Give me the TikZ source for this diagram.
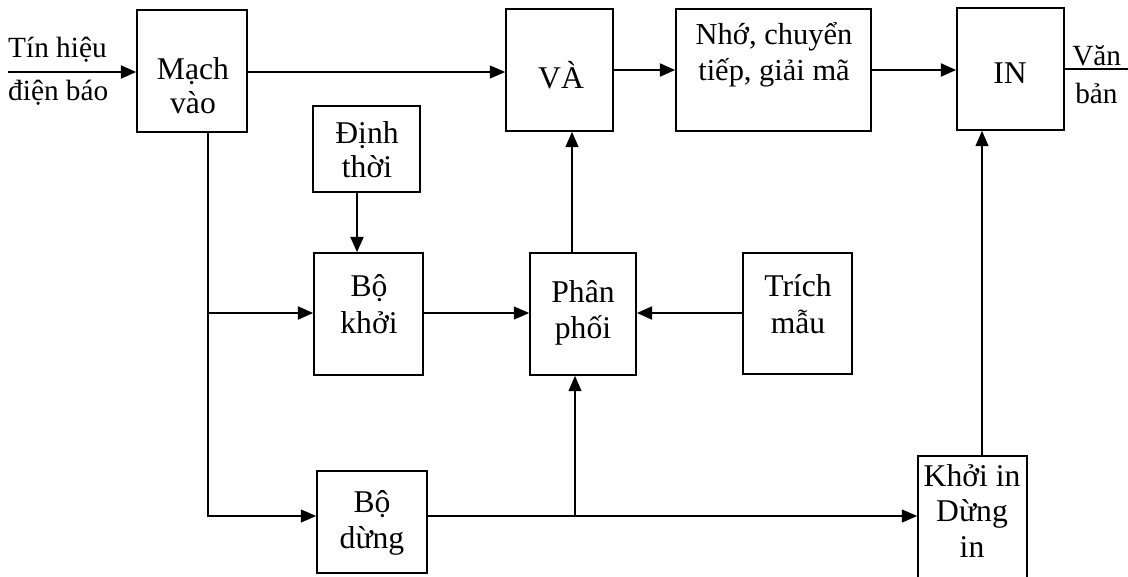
\documentclass[tikz,border=0pt]{standalone}
\usepackage{fontspec}
\setmainfont{Liberation Serif}
\usetikzlibrary{arrows.meta}
\begin{document}
\begin{tikzpicture}[x=0.03cm,y=-0.03cm,
  box/.style={draw,line width=1.4pt,inner sep=0pt},
  txt/.style={inner sep=0pt,align=center,font=\fontsize{27}{31}\selectfont},
  lbl/.style={inner sep=0pt,font=\fontsize{25}{31}\selectfont},
  thinl/.style={line width=1pt},
  thickl/.style={line width=1.9pt},
  arr/.style={-{Triangle[length=13pt,width=11pt]}}]
\useasboundingbox (0,0) rectangle (1128,576);
% boxes
\node[box,minimum width=3.30cm,minimum height=3.66cm] (mv) at (192,71) {};
\node[box,minimum width=3.21cm,minimum height=3.66cm] (va) at (559.5,70) {};
\node[box,minimum width=5.85cm,minimum height=3.66cm] (nho) at (773.5,70) {};
\node[box,minimum width=3.21cm,minimum height=3.66cm] (in) at (1010.5,69) {};
\node[box,minimum width=3.21cm,minimum height=2.58cm] (dt) at (366.5,149) {};
\node[box,minimum width=3.27cm,minimum height=3.66cm] (bk) at (368.5,314) {};
\node[box,minimum width=3.18cm,minimum height=3.66cm] (pp) at (583,314) {};
\node[box,minimum width=3.27cm,minimum height=3.63cm] (tm) at (797.5,313.5) {};
\node[box,minimum width=3.30cm,minimum height=3.06cm] (bd) at (372,522) {};
\node[box,minimum width=3.27cm,minimum height=4.32cm] (ki) at (972.5,528) {};
% texts
\node[txt,font=\fontsize{27}{29}\selectfont] (mvt) at (193,86) {Mạch\\vào};
\node[txt] (vat) at (561,75) {VÀ};
\node[txt,font=\fontsize{26}{31}\selectfont] (nhot) at (774,55) {Nhớ, chuyển\\tiếp, giải mã};
\node[txt] (int) at (1010,73) {IN};
\node[txt,font=\fontsize{27}{29}\selectfont] (dtt) at (367,150) {Định\\thời};
\node[txt] (bkt) at (369,304) {Bộ\\khởi};
\node[txt] (ppt) at (583,313) {Phân\\phối};
\node[txt] (tmt) at (798,304) {Trích\\mẫu};
\node[txt] (bdt) at (372,523) {Bộ\\dừng};
\node[txt,font=\fontsize{27}{30}\selectfont] (kit) at (972,511) {Khởi in\\Dừng\\in};
\node[lbl,anchor=base west] (l1) at (8,57) {Tín hiệu};
\node[lbl,anchor=base west] (l2) at (8,100) {điện báo};
\node[lbl,anchor=base west] (l3) at (1072,65) {Văn};
\node[lbl,anchor=base west] (l4) at (1075,103) {bản};
% coordinates
\coordinate (inp) at (8,72);
\coordinate (vout) at (1128,70);
\coordinate (j1) at (208,313);
\coordinate (j2) at (208,516);
\coordinate (j3) at (575,516);
\coordinate (x1) at (357,200);
\coordinate (x2) at (572,200);
\coordinate (x3) at (982,300);
% connectors
\draw[thickl,arr] (inp) -- (mv.west |- inp);
\draw[thinl,arr] (mv.east |- inp) -- (va.west |- inp);
\draw[thickl,arr] (va.east) -- (nho.west);
\draw[thickl,arr] (nho.east) -- (in.west |- nho.east);
\draw[thinl] (in.east) -- (in.east -| vout);
\draw[thinl,arr] (mv.south -| j1) -- (j2) -- (bd.west |- j2);
\draw[thickl,arr] (j1) -- (bk.west |- j1);
\draw[thickl,arr] (dt.south -| x1) -- (bk.north -| x1);
\draw[thinl,arr] (bk.east |- j1) -- (pp.west |- j1);
\draw[thickl,arr] (tm.west |- j1) -- (pp.east |- j1);
\draw[line width=1.4pt,arr] (pp.north -| x2) -- (va.south -| x2);
\draw[thinl,arr] (bd.east |- j3) -- (ki.west |- j3);
\draw[thinl,arr] (j3) -- (pp.south -| j3);
\draw[thinl,arr] (ki.north -| x3) -- (in.south -| x3);
\end{tikzpicture}
\end{document}
